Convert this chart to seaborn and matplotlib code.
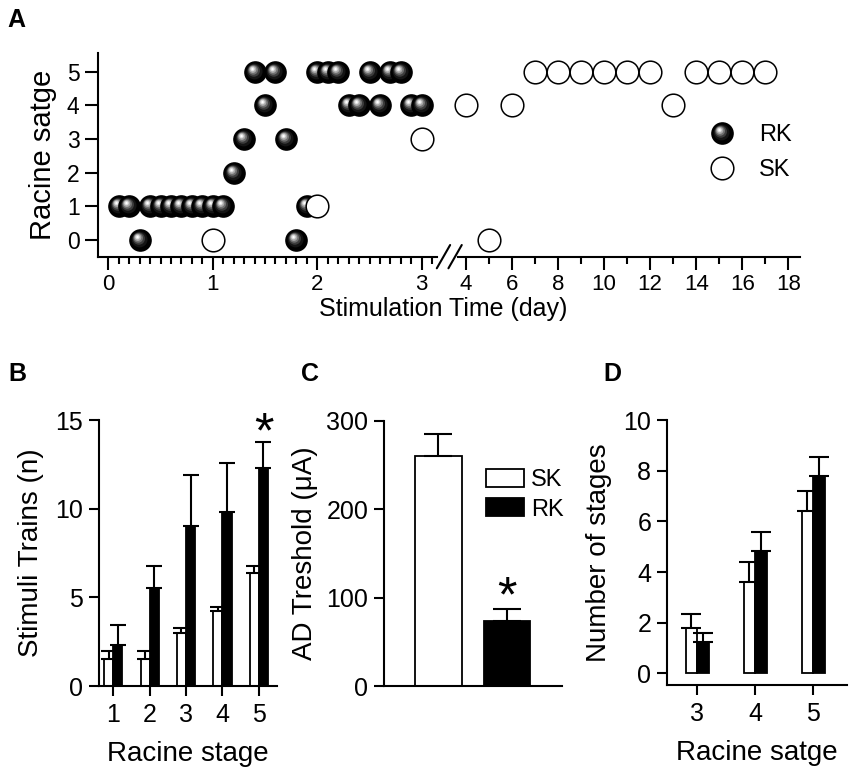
import matplotlib
matplotlib.use('Agg')
import numpy as np
import pandas as pd
import matplotlib.pyplot as plt
import seaborn as sns
from matplotlib.markers import MarkerStyle
from matplotlib.transforms import Affine2D
from matplotlib.lines import Line2D
from matplotlib.legend_handler import HandlerTuple

# ---- panel A: racine stage of every stimulation
rk_day = [0.1, 0.2, 0.3, 0.4, 0.5, 0.6, 0.7, 0.8, 0.9, 1.0,
          1.1, 1.2, 1.3, 1.4, 1.5, 1.6, 1.7, 1.8, 1.9, 2.0,
          2.1, 2.2, 2.3, 2.4, 2.5, 2.6, 2.7, 2.8, 2.9, 3.0]
rk_stage = [1, 1, 0, 1, 1, 1, 1, 1, 1, 1,
            1, 2, 3, 5, 4, 5, 3, 0, 1, 5,
            5, 5, 4, 4, 5, 4, 5, 5, 4, 4]
sk_day = [1.0, 2.0, 3.0, 4, 5, 6, 7, 8, 9, 10, 11, 12, 13, 14, 15, 16, 17]
sk_stage = [0, 1, 3, 4, 0, 4, 5, 5, 5, 5, 5, 5, 4, 5, 5, 5, 5]

# ---- panel B: stimuli trains per racine stage
stages_b = [1, 2, 3, 4, 5]
sk_trains = [1.5, 1.5, 3.0, 4.25, 6.4]
sk_trains_err = [0.5, 0.5, 0.25, 0.22, 0.37]
rk_trains = [2.3, 5.55, 9.0, 9.8, 12.3]
rk_trains_err = [1.15, 1.2, 2.9, 2.8, 1.45]

# ---- panel C: AD threshold
groups_c = ['SK', 'RK']
ad_thr = [260, 74]
ad_thr_err = [25, 13]

# ---- panel D: number of stages
stages_d = [3, 4, 5]
sk_nstage = [1.78, 3.6, 6.42]
sk_nstage_err = [0.55, 0.8, 0.76]
rk_nstage = [1.22, 4.82, 7.8]
rk_nstage_err = [0.36, 0.77, 0.75]

sns.set_style('ticks')
plt.rcParams['font.family'] = ['Liberation Sans', 'DejaVu Sans']
plt.rcParams['axes.linewidth'] = 1.5
plt.rcParams['xtick.major.width'] = 1.5
plt.rcParams['ytick.major.width'] = 1.5
plt.rcParams['xtick.minor.width'] = 1.5
for k in ('xtick.color', 'ytick.color', 'axes.edgecolor', 'text.color',
          'axes.labelcolor', 'xtick.labelcolor', 'ytick.labelcolor'):
    plt.rcParams[k] = 'black'

PAL = {'SK': 'white', 'RK': 'black'}
D = 16.3  # marker diameter, pt

# shaded sphere = stacked circles moving towards the highlight
HL = np.array([-0.13, 0.15])
layers = []
for r, c, k in [(1.00, '#000000', 0.0), (0.70, '#141414', 0.3),
                (0.54, '#3c3c3c', 0.55), (0.42, '#707070', 0.75),
                (0.31, '#a8a8a8', 0.9), (0.20, '#dcdcdc', 1.0),
                (0.10, '#ffffff', 1.0)]:
    tr = Affine2D().scale(r).translate(*(HL * k))
    layers.append((MarkerStyle('o', transform=tr), c))


def spheres(ax, xs, ys):
    for x, y in zip(xs, ys):
        for m, c in layers:
            ax.scatter([x], [y], s=D ** 2, marker=m, color=c,
                       linewidths=0, clip_on=False, zorder=3)


def add_err(ax, errs):
    # errs: list per hue container
    for cont, err in zip(ax.containers, errs):
        for bar, e in zip(cont, err):
            ax.errorbar(bar.get_x() + bar.get_width() / 2, bar.get_height(),
                        yerr=[[0], [e]], fmt='none', ecolor='black',
                        elinewidth=1.5, capthick=1.5, capsize=cap, zorder=4)


fig = plt.figure(figsize=(8.5, 7.74), dpi=100)
W, H = 850, 774


def place(l, t, r, b):
    return fig.add_axes([l / W, 1 - b / H, (r - l) / W, (b - t) / H])


# ---------------- A
axA1 = place(98.3, 53.3, 437, 256.7)
axA2 = place(458, 53.3, 800, 256.7)
axA1.set_xlim(-0.0957, 3.146)
axA2.set_xlim(3.652, 18.51)
for ax in (axA1, axA2):
    ax.set_ylim(-0.5, 5.55)
    ax.spines[['top', 'right']].set_visible(False)
    ax.tick_params(axis='x', which='major', length=9.5, width=1.5, pad=3, labelsize=16)
    ax.tick_params(axis='x', which='minor', length=5, width=1.5)
    ax.tick_params(axis='y', length=9.5, width=1.5, pad=4, labelsize=16.5)
axA2.spines['left'].set_visible(False)
axA2.tick_params(axis='y', left=False, labelleft=False)
axA1.set_xticks([0, 1, 2, 3])
axA1.set_xticks(np.arange(0, 3.15, 0.1), minor=True)
axA2.set_xticks(np.arange(4, 19, 2))
axA2.set_xticks(np.arange(5, 18, 2), minor=True)
axA1.set_yticks(range(6))
axA1.set_ylabel('Racine satge', fontsize=21, labelpad=7)

left = [d <= 3.2 for d in rk_day]
spheres(axA1, [d for d, k in zip(rk_day, left) if k], [s for s, k in zip(rk_stage, left) if k])
for ax, sel in ((axA1, lambda d: d <= 3.2), (axA2, lambda d: d > 3.2)):
    xs = [d for d in sk_day if sel(d)]
    ys = [s for d, s in zip(sk_day, sk_stage) if sel(d)]
    sns.scatterplot(x=xs, y=ys, ax=ax, s=D ** 2, color='white', edgecolor='black',
                    linewidth=1.1, zorder=4, clip_on=False, legend=False)

# axis break
for x0 in (-0.062, -0.028):
    axA2.plot([x0, x0 + 0.039], [-0.057, 0.0575], color='black', lw=1.5,
              transform=axA2.transAxes, clip_on=False)
fig.text(443 / W, 1 - 297 / H, 'Stimulation Time (day)', ha='center', va='top', fontsize=18)

rk_handle = tuple(Line2D([], [], ls='none', marker=m, markersize=D, markerfacecolor=c,
                         markeredgewidth=0) for m, c in layers)
sk_handle = Line2D([], [], ls='none', marker='o', markersize=D, markerfacecolor='white',
                   markeredgecolor='black', markeredgewidth=1.1)
axA2.legend([rk_handle, sk_handle], ['RK', 'SK'], handler_map={tuple: HandlerTuple(ndivide=1, pad=0)},
            loc='upper left', bbox_to_anchor=(0.736, 0.65), frameon=False, fontsize=17,
            handlelength=1.0, handletextpad=1.1, labelspacing=0.55, borderpad=0, borderaxespad=0)

# ---------------- B
axB = place(99, 420, 276.7, 686)
dfB = pd.DataFrame({'stage': stages_b * 2,
                    'value': sk_trains + rk_trains,
                    'group': ['SK'] * 5 + ['RK'] * 5})
sns.barplot(data=dfB, x='stage', y='value', hue='group', hue_order=['SK', 'RK'],
            palette=PAL, edgecolor='black', linewidth=1.3, width=0.5, errorbar=None,
            legend=False, ax=axB)
cap = 6
add_err(axB, [sk_trains_err, rk_trains_err])
axB.set_ylim(0, 15)
axB.set_xlim(-0.39, 4.49)
axB.set_yticks([0, 5, 10, 15])
axB.set_ylabel('Stimuli Trains (n)', fontsize=20, labelpad=8)
axB.set_xlabel('Racine stage', fontsize=20, labelpad=10)
last = axB.containers[1][-1]
axB.annotate('*', (last.get_x() + last.get_width() / 2, rk_trains[-1] + rk_trains_err[-1]),
             xytext=(0, -11), textcoords='offset points', ha='center', va='bottom', fontsize=36)

# ---------------- C
axC = place(384.3, 420.7, 561.7, 686)
dfC = pd.DataFrame({'group': groups_c, 'value': ad_thr})
sns.barplot(data=dfC, x='group', y='value', hue='group', hue_order=groups_c,
            palette=PAL, edgecolor='black', linewidth=1.3, width=0.68, errorbar=None,
            legend=False, ax=axC)
cap = 10
add_err(axC, [[e] for e in ad_thr_err])
axC.set_ylim(0, 300)
axC.set_xlim(-0.786, 1.796)
axC.set_yticks([0, 100, 200, 300])
axC.set_ylabel('AD Treshold (μA)', fontsize=20, labelpad=6)
axC.set_xlabel('')
axC.tick_params(axis='x', length=0, labelbottom=False)
rkbar = axC.containers[1][0]
axC.annotate('*', (rkbar.get_x() + rkbar.get_width() / 2, ad_thr[1] + ad_thr_err[1]),
             xytext=(0, -9), textcoords='offset points', ha='center', va='bottom', fontsize=36)
legC = [plt.Rectangle((0, 0), 1, 1, facecolor=PAL[g], edgecolor='black', linewidth=1.3)
        for g in groups_c]
axC.legend(legC, groups_c, loc='upper left', bbox_to_anchor=(0.573, 0.818), frameon=False,
           fontsize=17, handlelength=1.6, handleheight=0.8, handletextpad=0.3,
           labelspacing=0.3, borderpad=0, borderaxespad=0)

# ---------------- D
axD = place(667.3, 420, 846.7, 685)
dfD = pd.DataFrame({'stage': stages_d * 2,
                    'value': sk_nstage + rk_nstage,
                    'group': ['SK'] * 3 + ['RK'] * 3})
sns.barplot(data=dfD, x='stage', y='value', hue='group', hue_order=['SK', 'RK'],
            palette=PAL, edgecolor='black', linewidth=1.3, width=0.4, errorbar=None,
            legend=False, ax=axD)
cap = 7
add_err(axD, [sk_nstage_err, rk_nstage_err])
axD.set_ylim(-0.46, 10)
axD.set_xlim(-0.517, 2.576)
axD.set_yticks([0, 2, 4, 6, 8, 10])
axD.set_ylabel('Number of stages', fontsize=20, labelpad=8)
axD.set_xlabel('Racine satge', fontsize=20, labelpad=10)

for ax in (axB, axC, axD):
    ax.spines[['top', 'right']].set_visible(False)
    ax.tick_params(axis='both', length=7.5, width=1.5, labelsize=18)
    ax.tick_params(axis='y', pad=4)
    ax.tick_params(axis='x', pad=5)
axC.tick_params(axis='x', length=0)

for lab, x, y in (('A', 7, 8), ('B', 8, 362), ('C', 301, 362), ('D', 603, 362)):
    fig.text(x / W, 1 - y / H, lab, fontsize=18, fontweight='bold', ha='left', va='top')

fig.savefig('out.png', dpi=100)
